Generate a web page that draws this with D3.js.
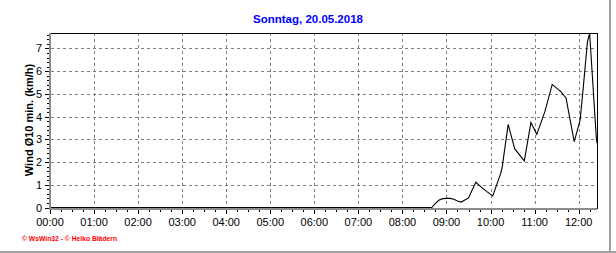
<!DOCTYPE html>
<html>
<head>
<meta charset="utf-8">
<script src="https://cdn.jsdelivr.net/npm/d3@7"></script>
<style>
html,body{margin:0;padding:0;background:#fff;}
svg{display:block;}
text{font-family:"Liberation Sans",Arial,sans-serif;}
</style>
</head>
<body>
<svg id="c" width="616" height="253"></svg>
<script>
// ---- data ----
const title = "Sonntag, 20.05.2018";
const yLabel = "Wind Ø10 min. (km/h)";
const footer = "© WsWin32  -  © Heiko Blädern";
const times = ["00:00","08:40","08:45","08:50","08:55","09:00","09:05","09:10","09:15","09:20","09:25","09:30","09:35","09:40","09:45","09:50","09:55","10:03","10:14","10:16","10:24","10:29","10:33","10:46","10:55","11:03","11:14","11:24","11:32","11:35","11:43","11:45","11:54","12:02","12:06","12:12","12:15","12:24","12:25"];
const values = [0,0,0.18,0.33,0.39,0.40,0.40,0.36,0.29,0.24,0.33,0.42,0.77,1.11,0.96,0.83,0.70,0.51,1.51,1.80,3.66,3.05,2.58,2.05,3.74,3.22,4.22,5.42,5.20,5.13,4.81,4.44,2.90,3.85,5.18,7.30,7.66,3.10,2.83];
const xTickLabels = ["00:00","01:00","02:00","03:00","04:00","05:00","06:00","07:00","08:00","09:00","10:00","11:00","12:00"];
const yTickValues = [0,1,2,3,4,5,6,7];
const xDomainEnd = "12:25";
const yDomainMax = 7.66;

const toMin = s => { const [h,m] = s.split(":").map(Number); return h*60+m; };
const data = times.map((t,i)=>({t:toMin(t), v:values[i]}));

const svg = d3.select("#c");
const L = 50, R = 597, T = 33.5, B = 207.5;
const x = d3.scaleLinear().domain([0, toMin(xDomainEnd)]).range([L, R]);
const y = d3.scaleLinear().domain([0, yDomainMax]).range([B, T]);

// outer frame (right & bottom)
svg.append("rect").attr("x",609).attr("y",0).attr("width",2).attr("height",253).attr("fill","#a0a0a0");
svg.append("rect").attr("x",0).attr("y",251).attr("width",616).attr("height",2).attr("fill","#a0a0a0");

// title
svg.append("text").attr("x",308).attr("y",23).attr("text-anchor","middle")
  .attr("font-size",11.5).attr("font-weight","bold").attr("fill","#0000ff").text(title);

// grid
const g = svg.append("g");
g.selectAll("line.hg").data(yTickValues.filter(v=>v>0)).enter().append("line")
  .attr("x1",L+1).attr("x2",R).attr("y1",d=>Math.round(y(d))+0.5).attr("y2",d=>Math.round(y(d))+0.5)
  .attr("stroke","#808080").attr("stroke-dasharray","3,3");
g.selectAll("line.vg").data(xTickLabels.slice(1)).enter().append("line")
  .attr("y1",33).attr("y2",207).attr("x1",d=>Math.round(x(toMin(d)))+0.5).attr("x2",d=>Math.round(x(toMin(d)))+0.5)
  .attr("stroke","#808080").attr("stroke-dasharray","3,3");

// data line
svg.append("path").datum(data)
  .attr("d", d3.line().x(d=>x(d.t)).y(d=>y(d.v)))
  .attr("fill","none").attr("stroke","#000").attr("stroke-width",1.1);

// frame top & right
svg.append("line").attr("x1",49).attr("x2",598).attr("y1",33.5).attr("y2",33.5).attr("stroke","#000");
svg.append("line").attr("x1",597.5).attr("x2",597.5).attr("y1",33).attr("y2",209).attr("stroke","#000");

// axes (gray)
svg.append("rect").attr("x",49).attr("y",208).attr("width",548).attr("height",2).attr("fill","#8c8c8c");
svg.append("rect").attr("x",49).attr("y",33).attr("width",2).attr("height",177).attr("fill","#8c8c8c");

// x ticks: major hourly, minor every 15 min
const minorX = d3.range(0, toMin(xDomainEnd)+1, 15);
svg.selectAll("line.xt").data(minorX).enter().append("line")
  .attr("x1",d=>Math.round(x(d))+0.5).attr("x2",d=>Math.round(x(d))+0.5)
  .attr("y1",210).attr("y2",d=> d%60===0 ? 214 : 212)
  .attr("stroke","#000");
svg.selectAll("text.xl").data(xTickLabels).enter().append("text")
  .attr("x",d=>x(toMin(d))).attr("y",226).attr("text-anchor","middle")
  .attr("font-size",11).attr("fill","#000").text(d=>d);

// y ticks
const minorY = d3.range(0, yDomainMax+0.001, 0.2).map(v=>+v.toFixed(1));
svg.selectAll("line.yt").data(minorY).enter().append("line")
  .attr("y1",d=>Math.round(y(d))+0.5).attr("y2",d=>Math.round(y(d))+0.5)
  .attr("x1",d=> Math.abs(d-Math.round(d))<1e-6 ? 45 : 47).attr("x2",49)
  .attr("stroke","#000");
svg.selectAll("text.yl").data(yTickValues).enter().append("text")
  .attr("x",42).attr("y",d=>y(d)+4).attr("text-anchor","end")
  .attr("font-size",11).attr("fill","#000").text(d=>d);

// y label
svg.append("text").attr("transform","translate(33,120) rotate(-90)")
  .attr("text-anchor","middle").attr("font-size",11).attr("font-weight","bold").text(yLabel);

// footer
svg.append("text").attr("x",22).attr("y",241).attr("font-size",7).attr("font-weight","bold")
  .attr("fill","#ff0000").attr("textLength",95).attr("lengthAdjust","spacingAndGlyphs").text(footer);
</script>
</body>
</html>
